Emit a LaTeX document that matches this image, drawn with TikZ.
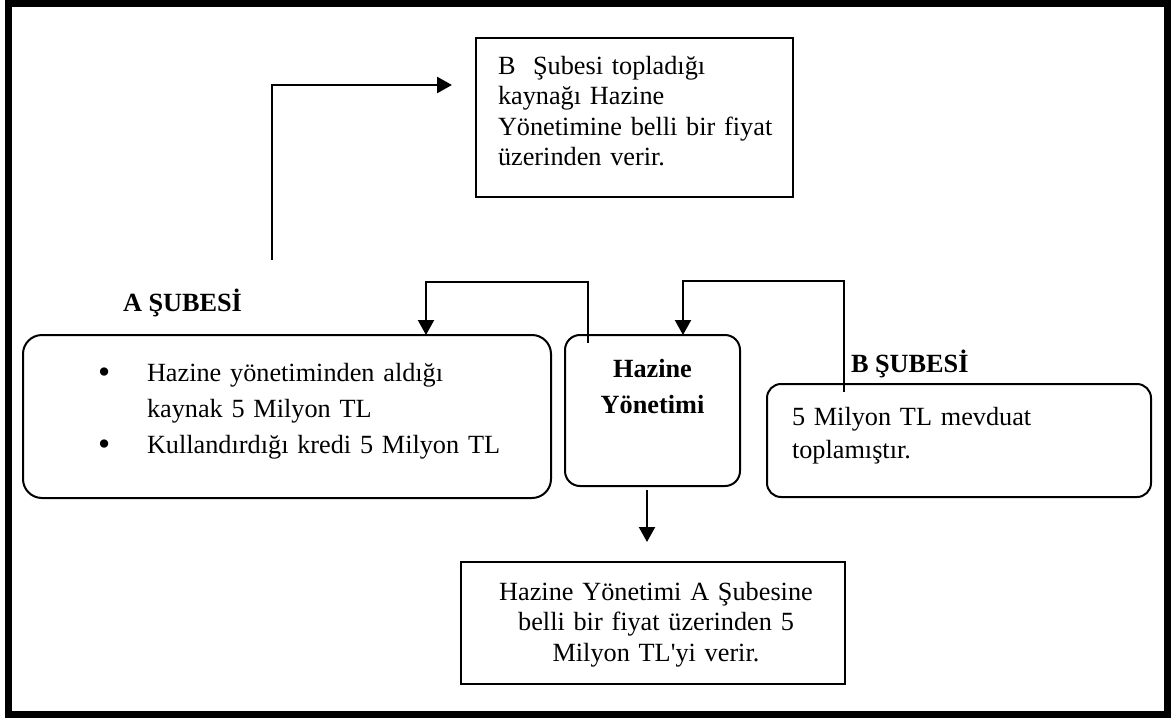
\documentclass[tikz,border=0pt]{standalone}
\usepackage{fontspec}
\setmainfont{Liberation Serif}
\usetikzlibrary{arrows.meta,calc}
% lengths below are given in pt; one grid unit is 0.75pt
\tikzset{
  frame/.style={line width=5.25pt},
  sqbox/.style={draw, line width=1.5pt, inner sep=0pt, outer sep=0pt},
  rbox/.style={sqbox, rounded corners=#1},
  txt/.style={inner sep=0pt, outer sep=0pt, anchor=base west,
    font=\fontsize{19.7}{22.9}\selectfont},
  boldtxt/.style={txt, font=\bfseries\fontsize{19.7}{22.9}\selectfont},
  link/.style={line width=1.65pt, -{Triangle[length=11.25pt,width=12pt]}},
}
% bullet hung in the left margin of a list line
\newcommand{\hungbullet}{\leavevmode\llap{\raisebox{-1.6pt}{\fontsize{26}{26}\selectfont\textbullet}\hspace{27.5pt}}}
\begin{document}
\begin{tikzpicture}[x=0.75pt,y=-0.75pt]
\useasboundingbox (0,0) rectangle (1172,718);

% outer frame
\draw[frame] (8,3.5) rectangle (1167.5,714);

% boxes
\node[sqbox, minimum width=237.75pt, minimum height=119.25pt] (topbox) at (634.5,117.5) {};
\node[rbox=14.25pt, minimum width=396pt, minimum height=122.25pt] (abox) at (287,416.5) {};
\node[rbox=11.25pt, minimum width=131.25pt, minimum height=113.25pt] (hbox) at (652.5,410.5) {};
\node[rbox=10.5pt, minimum width=288pt, minimum height=84.75pt] (bbox) at (959,440.5) {};
\node[sqbox, minimum width=288pt, minimum height=91.5pt] (botbox) at (653,623) {};

% texts
\node[txt, text width=225pt, align=left] (toptext) at (498,74)
  {B\ \ Şubesi topladığı\\kaynağı Hazine\\Yönetimine belli bir fiyat\\üzerinden verir.};
\node[boldtxt] (alabel) at (123,311) {A ŞUBESİ};
\node[txt, text width=315pt, align=left, font=\fontsize{19.7}{27}\selectfont] (atext) at (147,381)
  {\hungbullet Hazine yönetiminden aldığı\\kaynak 5 Milyon TL\\\hungbullet Kullandırdığı kredi 5 Milyon TL};
\node[txt, anchor=base, text width=127.5pt, align=center, font=\bfseries\fontsize{19.7}{27}\selectfont] (htext) at (652.5,377)
  {Hazine\\Yönetimi};
\node[boldtxt] (blabel) at (851,372) {B ŞUBESİ};
\node[txt, text width=270pt, align=left, font=\fontsize{19.7}{24.75}\selectfont] (btext) at (792,425)
  {5 Milyon TL mevduat\\toplamıştır.};
\node[txt, anchor=base, text width=285pt, align=center] (bottext) at (656,600)
  {Hazine Yönetimi A Şubesine\\belli bir fiyat üzerinden 5\\Milyon TL\textquotesingle yi verir.};

% connectors
\coordinate (astart) at (272,260);
\draw[link, line width=2pt] (astart) |- ($(topbox.north west)+(-24,47)$);
\draw[link] ($(hbox.north west)+(23,8)$) -- ++(0,-61) -| ($(abox.north west)+(403,0)$);
\draw[link] ($(bbox.north west)+(77,8)$) -- ++(0,-111) -| ($(hbox.north west)+(118,0)$);
\draw[link] ($(hbox.south)+(-5.5,4)$) -- ($(botbox.north)+(-6,-20)$);
\end{tikzpicture}
\end{document}
